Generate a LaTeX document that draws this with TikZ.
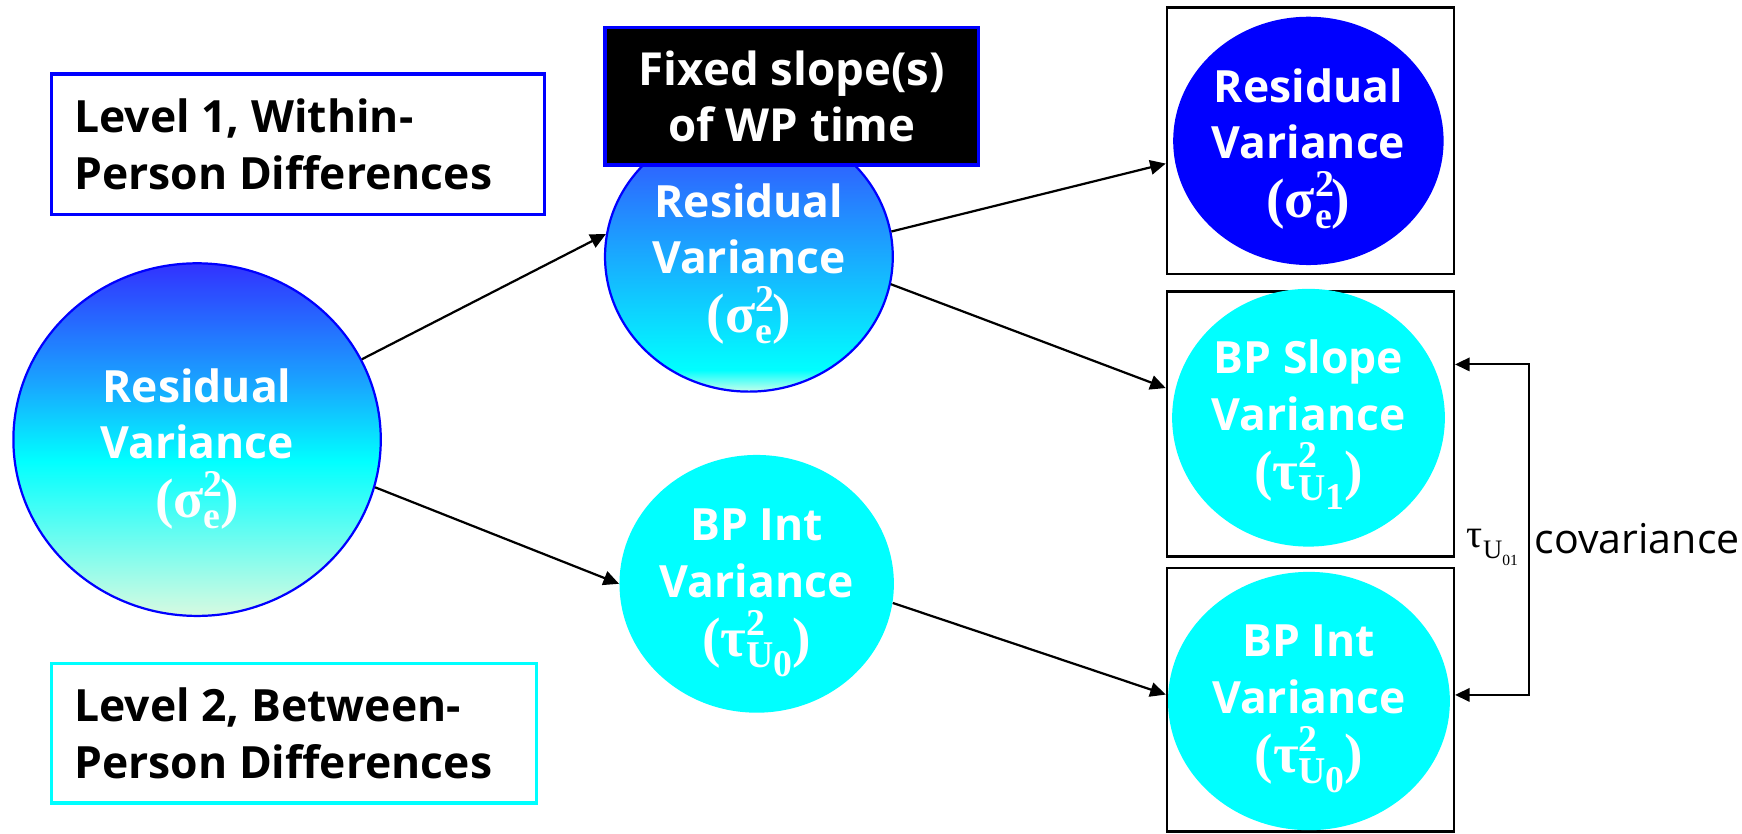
\documentclass[tikz,border=0pt]{standalone}
\usepackage{fontspec}
\setmainfont{Open Sans}
\newfontfamily\serif{Liberation Serif}
\usetikzlibrary{shapes.geometric,arrows.meta}

\definecolor{lvlblue}{RGB}{0,0,255}
\definecolor{cyanc}{RGB}{0,255,255}
\definecolor{bigtop}{RGB}{50,50,255}
\definecolor{bigmid}{RGB}{25,165,255}
\definecolor{palec}{RGB}{215,250,225}
\definecolor{midtopc}{RGB}{55,70,255}
\definecolor{palecb}{RGB}{200,255,235}

\pgfdeclareverticalshading{bigsh}{100bp}{color(0bp)=(palec); color(25bp)=(palec); color(47bp)=(cyanc); color(58bp)=(bigmid); color(75bp)=(bigtop); color(100bp)=(bigtop)}
\pgfdeclareverticalshading{midsh}{100bp}{color(0bp)=(palecb); color(25bp)=(palecb); color(29bp)=(cyanc); color(75bp)=(midtopc); color(100bp)=(midtopc)}

\newcommand{\mlab}[2]{{\serif\bfseries\fontsize{25}{26}\selectfont(#1\rlap{\raisebox{9.5pt}{\fontsize{17}{17}\selectfont 2}}\raisebox{-5pt}{\fontsize{17}{17}\selectfont #2})}}

\tikzset{
  lvlbox/.style={draw, line width=1.5pt, fill=white, align=flush left, inner xsep=10.25pt, inner ysep=0pt,
    font=\bfseries\fontsize{20}{25.5}\selectfont\hyphenpenalty10000\relax},
  fixbox/.style={draw=lvlblue, fill=black, line width=1.5pt, text=white, align=center, inner sep=0pt,
    font=\bfseries\fontsize{20.5}{25.5}\selectfont},
  rbox/.style={draw=black, line width=1.1pt, fill=white, inner sep=0pt},
  circ/.style={ellipse, inner sep=0pt},
  ctext/.style={text=white, align=center, inner sep=0pt, font=\bfseries\fontsize{20}{25.5}\selectfont},
  arr/.style={-{Triangle[length=7pt,width=6.5pt]}, line width=1pt, black},
  covarr/.style={{Triangle[length=6.5pt,width=6pt]}-{Triangle[length=6.5pt,width=6pt]}, line width=0.9pt, black},
}

\begin{document}
\begin{tikzpicture}[x=0.5pt,y=-0.5pt]
\useasboundingbox (0,0) rectangle (1568,750);

% level boxes
\node[lvlbox, draw=lvlblue, text width=201.25pt, minimum height=63.2pt] (lvl1) at (268.25,129.8)
  {Level 1, Within-\\Person Differences};
\node[lvlbox, draw=cyanc, text width=197.75pt, minimum height=62.85pt] (lvl2) at (264.75,659.85)
  {Level 2, Between-\\Person Differences};

% right boxes
\node[rbox, minimum width=129.1pt, minimum height=120pt] (box1) at (1179.5,126.6) {};
\node[rbox, minimum width=129.1pt, minimum height=119.25pt] (box2) at (1179.5,381.75) {};
\node[rbox, minimum width=129.1pt, minimum height=118.5pt] (box3) at (1179.5,629.75) {};

% circles
\node[circ, shading=bigsh, draw=lvlblue, line width=1pt, minimum width=165.35pt, minimum height=158.7pt] (big) at (177.4,395.7) {};
\node[circ, shading=midsh, draw=lvlblue, line width=1pt, minimum width=129.5pt, minimum height=121.5pt] (midtop) at (674.1,231) {};
\node[circ, fill=cyanc, minimum width=123.5pt, minimum height=116pt] (midbot) at (681.1,525.5) {};
\node[circ, fill=lvlblue, minimum width=121.7pt, minimum height=111.75pt] (r1) at (1177.7,126.8) {};
\node[circ, fill=cyanc, minimum width=122.75pt, minimum height=116pt] (r2) at (1177.8,376) {};
\node[circ, fill=cyanc, minimum width=126.85pt, minimum height=116.25pt] (r3) at (1178.2,631) {};

% fixed slope box (over the middle circle)
\node[fixbox, minimum width=168.2pt, minimum height=61.75pt] (fixed) at (712.8,86.75)
  {Fixed slope(s)\\of WP time};

% circle texts
\node[ctext] (bigt) at (177.4,404) {Residual\\Variance\\[1pt]\mlab{σ}{e}};
\node[ctext] (midtopt) at (674.1,237.5) {Residual\\Variance\\[1pt]\mlab{σ}{e}};
\node[ctext] (midbott) at (681.1,533.5) {BP Int\\Variance\\[1pt]\mlab{τ}{U\raisebox{-4pt}{0}}};
\node[ctext] (r1t) at (1177.7,134) {Residual\\Variance\\[1pt]\mlab{σ}{e}};
\node[ctext] (r2t) at (1177.8,382) {BP Slope\\Variance\\[1pt]\mlab{τ}{U\raisebox{-4pt}{1}}};
\node[ctext] (r3t) at (1178.2,638) {BP Int\\Variance\\[1pt]\mlab{τ}{U\raisebox{-4pt}{0}}};

% arrows
\draw[arr] (big.26) -- (midtop.171);
\draw[arr] (big.-15) -- (midbot.west);
\draw[arr] (midtop.10.4) -- (box1.189.6);
\draw[arr] (midtop.-11.7) -- (box2.166.6);
\draw[arr] (midbot.-8.3) -- (box3.178);

% covariance
\coordinate (ct) at (1376,328);
\coordinate (cb) at (1376,625.5);
\draw[covarr] (box2.east |- ct) -- (ct) -- (cb) -- (box3.east |- cb);
\node[anchor=base west, inner sep=0pt, font=\serif\fontsize{18}{18}\selectfont] (tau) at (1320,493)
  {τ\raisebox{-5pt}{\fontsize{12}{12}\selectfont U\raisebox{-3pt}{\fontsize{7}{7}\selectfont 01}}};
\node[anchor=base west, inner sep=0pt, font=\fontsize{18.5}{20}\selectfont] (covlab) at (1381,498.6) {covariance};
\end{tikzpicture}
\end{document}
